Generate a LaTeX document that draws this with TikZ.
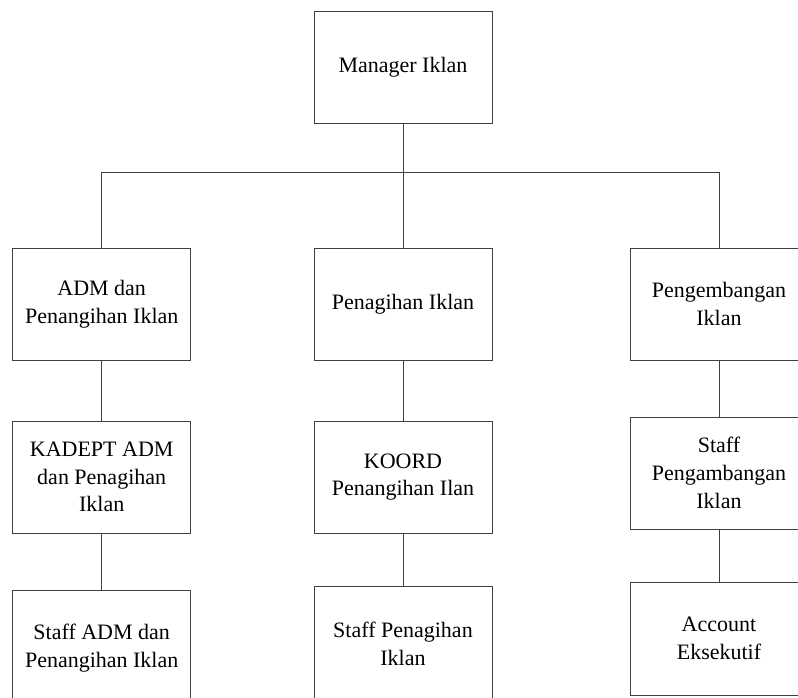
\documentclass[tikz,border=0pt]{standalone}
\usepackage{fontspec}
\setmainfont{Liberation Serif}
\begin{document}
\begin{tikzpicture}[x=1pt,y=-1pt,
  box/.style={draw=black!75,line width=1pt,rectangle,minimum width=178pt,minimum height=112pt,
    inner sep=0pt,align=center,font=\fontsize{22}{27.8}\selectfont},
  link/.style={draw=black!75,line width=1pt}]
\useasboundingbox (0,0) rectangle (798,697);
\clip (0,0) rectangle (798,697);
\node[box] (m) at (403,67) {Manager Iklan};
\node[box] (a1) at (101.7,304) {ADM dan\\Penangihan Iklan};
\node[box] (b1) at (403,304) {Penagihan Iklan};
\node[box] (c1) at (719,304) {Pengembangan\\Iklan};
\node[box] (a2) at (101.7,477) {KADEPT ADM\\dan Penagihan\\Iklan};
\node[box] (b2) at (403,477) {KOORD\\Penangihan Ilan};
\node[box] (c2) at (719,473) {Staff\\Pengambangan\\Iklan};
\node[box,minimum height=116pt] (a3) at (101.7,648) {Staff ADM dan\\Penangihan Iklan};
\node[box,minimum height=116pt] (b3) at (403,644) {Staff Penagihan\\Iklan};
\node[box,minimum height=113pt] (c3) at (719,638.5) {Account\\Eksekutif};
\coordinate (hb) at (0,172);
\draw[link] (m.south) -- (b1.north);
\draw[link] (a1.north) |- (c1.north |- hb) -- (c1.north);
\draw[link] (a1.south) -- (a2.north);
\draw[link] (a2.south) -- (a3.north);
\draw[link] (b1.south) -- (b2.north);
\draw[link] (b2.south) -- (b3.north);
\draw[link] (c1.south) -- (c2.north);
\draw[link] (c2.south) -- (c3.north);
\end{tikzpicture}
\end{document}
